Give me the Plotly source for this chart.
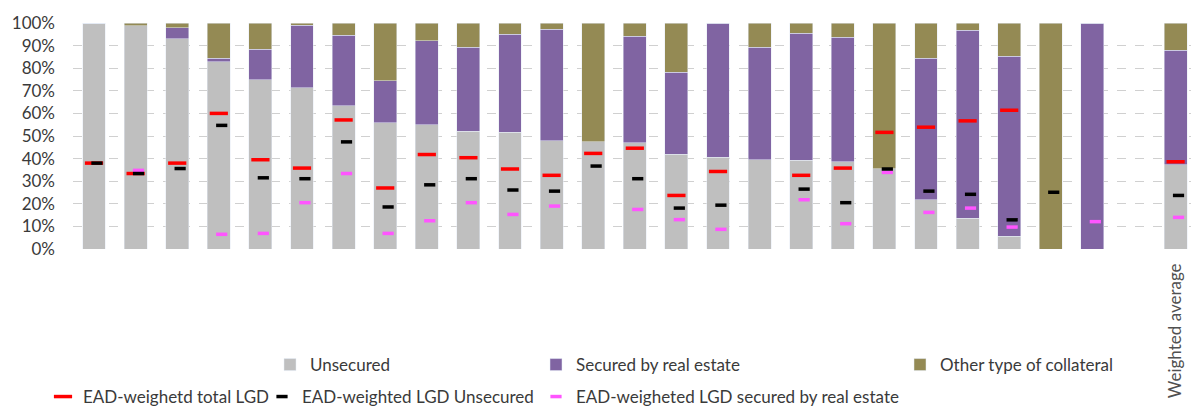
import plotly.graph_objects as go

# 25 banks, one empty slot, then the weighted average
labels = [""] * 25 + ["", "Weighted average"]

unsecured = [100, 98.7, 93.1, 82.9, 75.0, 71.3, 63.3, 55.8, 54.9, 52.1, 51.7, 48.0, 47.4,
             47.0, 42.0, 40.7, 39.6, 39.2, 38.7, 35.5, 21.7, 13.7, 5.7, 0, 0, None, 37.3]
secured_re = [0, 0, 4.7, 1.5, 13.4, 27.7, 31.3, 18.7, 37.2, 37.2, 43.3, 49.2, 0,
              47.1, 36.2, 59.3, 49.7, 56.2, 55.0, 0, 62.7, 83.1, 79.6, 0, 100, None, 50.6]
other_coll = [0, 1.3, 2.2, 15.6, 11.6, 1.0, 5.4, 25.5, 7.9, 10.7, 5.0, 2.8, 52.6,
              5.9, 21.8, 0, 10.7, 4.6, 6.3, 64.5, 15.6, 3.2, 14.7, 100, 0, None, 12.1]

lgd_total = [38.0, 33.4, 38.0, 60.0, 39.5, 35.8, 57.1, 27.0, 41.8, 40.4, 35.4, 32.6, 42.3,
             44.6, 23.7, 34.3, None, 32.6, 35.8, 51.6, 53.9, 56.7, 61.4, None, None, None, 38.6]
lgd_unsec = [38.0, 33.4, 35.6, 54.7, 31.5, 31.1, 47.4, 18.6, 28.4, 31.1, 26.1, 25.6, 36.7,
             31.1, 18.1, 19.4, None, 26.5, 20.5, 35.4, 25.6, 24.2, 12.9, 25.1, None, None, 23.7]
lgd_re = [None, 34.8, None, 6.5, 6.9, 20.5, 33.4, 6.9, 12.5, 20.5, 15.3, 19.0, None,
          17.5, 13.0, 8.7, None, 21.8, 11.2, 33.9, 16.2, 18.1, 9.7, None, 12.1, None, 14.0]

pos = list(range(len(labels)))
DOT_SHIFT = 0.07  # small horizontal shift of the black/pink dashes (style)
pos_shift = [p + DOT_SHIFT for p in pos]


def pct(vals):
    return [None if v is None else v / 100 for v in vals]


FONT = "Lato, 'Open Sans', sans-serif"
TXT = "#3A3A3A"

fig = go.Figure()
fig.add_bar(x=pos, y=pct(unsecured), name="Unsecured", marker_color="#BFBFBF",
            legend="legend")
fig.add_bar(x=pos, y=pct(secured_re), name="Secured by real estate", marker_color="#8064A2",
            legend="legend2")
fig.add_bar(x=pos, y=pct(other_coll), name="Other type of collateral", marker_color="#948A54",
            legend="legend3")

fig.add_scatter(x=pos, y=pct(lgd_total), mode="markers", name="EAD-weighetd total LGD",
                marker=dict(symbol="line-ew", size=13, line=dict(color="#FF0000", width=3.5)),
                legend="legend4")
fig.add_scatter(x=pos_shift, y=pct(lgd_re), mode="markers",
                name="EAD-weigheted LGD secured by real estate",
                marker=dict(symbol="line-ew", size=8, line=dict(color="#FF55FF", width=3.5)),
                legend="legend6")
fig.add_scatter(x=pos_shift, y=pct(lgd_unsec), mode="markers", name="EAD-weighted LGD Unsecured",
                marker=dict(symbol="line-ew", size=8, line=dict(color="#000000", width=3.5)),
                legend="legend5")

ML, MR, MT, MB = 73, 0, 23, 157
W, H = 1191, 406
PW = W - ML - MR
PH = H - MT - MB


def lx(px):
    return (px - ML) / PW


def ly(py):
    return (H - MB - py) / PH


leg_common = dict(font=dict(family=FONT, size=17, color=TXT), bgcolor="rgba(0,0,0,0)",
                  borderwidth=0, xanchor="left", yanchor="middle", orientation="h")
row1, row2 = 365, 397
fig.update_layout(
    width=W, height=H,
    margin=dict(l=ML, r=MR, t=MT, b=MB, autoexpand=False),
    paper_bgcolor="white", plot_bgcolor="white",
    barmode="stack", bargap=0.45,
    font=dict(family=FONT, size=17, color=TXT),
    showlegend=True,
    legend=dict(x=lx(270), y=ly(row1), **leg_common),
    legend2=dict(x=lx(536), y=ly(row1), **leg_common),
    legend3=dict(x=lx(900), y=ly(row1), **leg_common),
    legend4=dict(x=lx(43), y=ly(row2), **leg_common),
    legend5=dict(x=lx(262), y=ly(row2), **leg_common),
    legend6=dict(x=lx(536), y=ly(row2), **leg_common),
)
fig.update_xaxes(range=[-0.505, 26.37], tickmode="array", tickvals=pos, ticktext=labels,
                 tickangle=-90, showgrid=False, zeroline=False, showline=False,
                 ticks="", ticklabelstandoff=10, automargin=False,
                 tickfont=dict(family=FONT, size=17, color="#505050"))
fig.update_yaxes(range=[0, 1], dtick=0.1, tickformat=".0%", showgrid=True,
                 gridcolor="#D0D0D0", griddash="dash", gridwidth=1, zeroline=False,
                 showline=False, ticks="", ticklabelstandoff=17, automargin=False,
                 tickfont=dict(family=FONT, size=17, color=TXT))

fig.write_html("out.html", config={"displayModeBar": False},
               post_script="document.body.style.margin='0';document.body.style.overflow='hidden';")
